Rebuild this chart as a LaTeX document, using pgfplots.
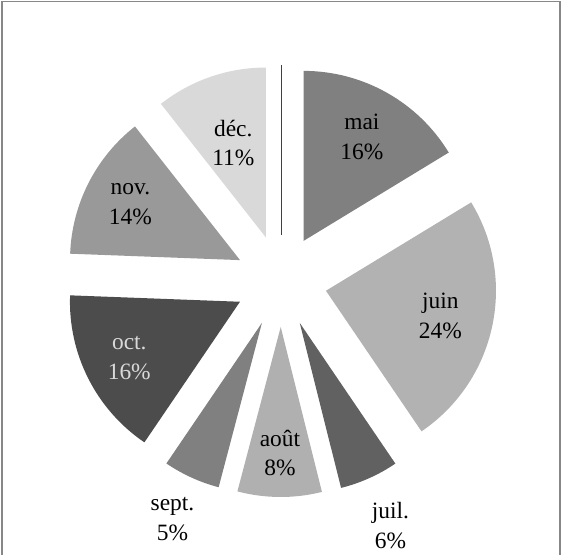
\documentclass[border=0pt]{standalone}
\usepackage{fontspec}
\setmainfont{Liberation Serif}
\usepackage{pgfplots}
\usepackage{pgfplotstable}
\pgfplotsset{compat=1.18}
\tikzset{pielabel/.style={font=\fontsize{23.5}{30}\selectfont, align=center}}

% share of each month (%), fill darkness, label darkness, label distance
\pgfplotstableread{
name  val   dark tdark lr
avr.  0     75   0     0
mai   16.3  50   100   165
juin  24.2  30   100   163
juil. 5.6   62   100   268
août  8.0   31   100   172
sept. 5.4   50   100   262
oct.  16.1  70   15    170
nov.  13.8  40   100   169
déc.  10.6  15   100   146
}\pietable

\begin{document}
\begin{tikzpicture}
\begin{axis}[
  x=1bp, y=1bp,
  xmin=-281, xmax=280,
  ymin=-274, ymax=281,
  hide axis,
  clip=false,
]
\path (rel axis cs:0,0) rectangle (rel axis cs:1,1);
\draw[color=black!47, line width=1.5bp]
  (axis cs:-279,-274) -- (axis cs:-279,279.5) -- (axis cs:279,279.5) -- (axis cs:279,-274);

\pgfplotstablegetrowsof{\pietable}
\pgfmathtruncatemacro\nrows{\pgfplotsretval-1}
\def\startang{90}
\pgfplotsforeachungrouped \i in {0,...,\nrows}{
  \pgfplotstablegetelem{\i}{val}\of\pietable \let\v\pgfplotsretval
  \pgfplotstablegetelem{\i}{dark}\of\pietable \let\dk\pgfplotsretval
  \pgfplotstablegetelem{\i}{tdark}\of\pietable \let\tdk\pgfplotsretval
  \pgfplotstablegetelem{\i}{lr}\of\pietable \let\lr\pgfplotsretval
  \pgfplotstablegetelem{\i}{name}\of\pietable \let\nm\pgfplotsretval
  \pgfmathsetmacro\endang{\startang-3.6*\v}
  \pgfmathsetmacro\midang{(\startang+\endang)/2}
  \pgfmathsetmacro\cx{46*cos(\midang)}
  \pgfmathsetmacro\cy{46*sin(\midang)}
  \pgfmathsetmacro\lx{\lr*cos(\midang)}
  \pgfmathsetmacro\ly{\lr*sin(\midang)}
  \pgfmathtruncatemacro\pct{round(\v)}
  \ifdim\v pt=0pt
    \edef\slice{\noexpand\draw[black!\dk, line width=1bp]
      (axis cs:\cx,\cy) -- ++(\startang:170bp);}
    \slice
  \else
    \edef\slice{\noexpand\fill[black!\dk] (axis cs:\cx,\cy)
      -- ++(\startang:170bp)
      arc[start angle=\startang, end angle=\endang, radius=170bp] -- cycle;
      \noexpand\node[pielabel, text=black!\tdk] at (axis cs:\lx,\ly)
      {\nm\noexpand\\\pct\noexpand\%};}
    \slice
  \fi
  \let\startang\endang
}
\end{axis}
\end{tikzpicture}
\end{document}
